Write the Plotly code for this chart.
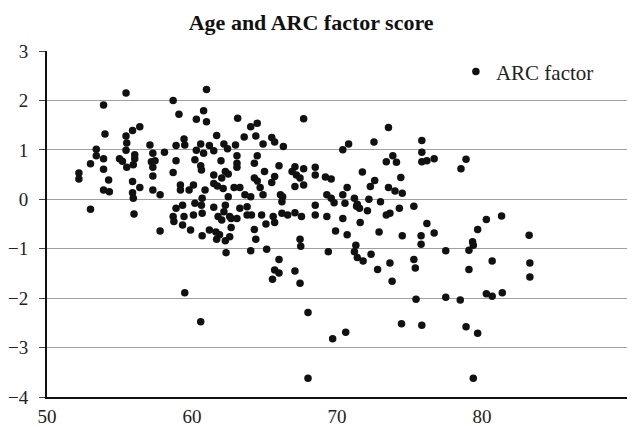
import plotly.graph_objects as go

age = [
    55.45, 53.9, 54.0, 56.4, 55.9, 55.45, 55.5, 57.1, 53.4, 55.45, 58.1, 57.3, 53.4, 53.9, 55.0, 56.05, 56.05,
    55.2, 57.2, 57.45, 53.0, 55.5, 55.95, 53.9, 57.3, 52.2, 52.2, 57.3, 54.25, 55.9, 53.9, 54.3, 56.4, 57.3,
    55.9, 55.95, 57.8, 53.0, 56.0, 57.8,
    61.0, 58.7, 59.1, 60.8, 60.3, 61.0, 63.15, 64.05, 64.5, 61.7, 63.6, 64.4, 65.5, 65.7, 66.3, 64.9, 59.45,
    59.5, 58.9, 60.6, 61.2, 62.2, 63.0, 60.3, 60.8, 61.5, 62.45, 63.1, 63.1, 63.1, 64.5, 58.9, 60.2, 62.0,
    64.3, 60.6, 60.65, 58.7, 66.0, 65.0, 61.5, 62.3, 62.5, 62.05, 65.7, 64.3, 64.5, 65.5, 61.5, 61.75, 59.2,
    60.1, 59.8, 59.2, 60.9, 62.9, 63.3, 64.7, 62.15, 63.65, 64.05, 64.9, 66.1, 66.2, 62.5, 60.7, 58.9, 59.35,
    60.2, 60.65, 61.5, 62.3, 62.2, 63.3, 63.8, 58.7, 59.45, 60.1, 60.7, 61.8, 62.6, 64.1, 64.8, 65.6, 66.2,
    58.75, 59.35, 62.05, 63.1, 62.7, 63.8, 65.7, 65.1, 66.6, 59.9, 60.7, 61.2, 61.65, 61.9, 61.7, 62.7, 62.6,
    62.3, 64.3, 64.4, 62.35, 64.05, 65.15, 66.0, 65.7, 66.0, 65.55, 59.5, 60.6,
    67.7, 73.55, 70.4, 70.8, 72.55, 73.85, 73.4, 74.1, 67.1, 67.7, 68.5, 68.5, 66.9, 67.2, 67.45, 69.2, 69.6,
    71.75, 72.6, 72.3, 74.4, 67.1, 67.7, 70.7, 73.55, 74.0, 74.5, 66.25, 69.3, 69.6, 69.8, 70.4, 70.55, 71.2,
    71.4, 71.55, 72.2, 73.0, 74.3, 67.1, 67.55, 68.5, 68.5, 69.3, 70.4, 72.1, 73.4, 73.65,
    71.35, 71.6, 69.9, 70.7, 72.9, 74.5, 67.45, 67.5, 71.3, 71.2, 71.4, 71.8, 72.35, 69.4, 67.1, 67.45, 72.8,
    73.65, 73.8, 68.0, 74.45, 70.6, 69.7, 68.0,
    75.85, 75.85, 75.85, 76.2, 76.7, 78.9, 78.55, 75.3, 80.3, 81.35,
    76.2, 75.8, 75.8, 76.7, 79.7, 79.35, 79.4, 79.1, 77.5, 83.25, 75.3, 75.4, 79.1, 80.7, 83.3, 83.3, 75.45,
    77.5, 78.5, 80.3, 80.7, 81.4, 75.85, 78.9, 79.7, 79.4,
]

arc_factor = [
    2.15, 1.91, 1.32, 1.47, 1.39, 1.28, 1.14, 1.10, 1.01, 0.99, 0.95, 0.93, 0.88, 0.82, 0.82, 0.90, 0.82,
    0.77, 0.76, 0.78, 0.72, 0.65, 0.70, 0.61, 0.65, 0.53, 0.41, 0.47, 0.39, 0.36, 0.19, 0.15, 0.24, 0.19,
    0.13, 0.02, 0.09, -0.20, -0.30, -0.64,
    2.22, 2.0, 1.72, 1.79, 1.62, 1.57, 1.64, 1.47, 1.54, 1.29, 1.26, 1.28, 1.25, 1.16, 1.07, 1.12, 1.22,
    1.10, 1.09, 1.12, 1.09, 1.12, 1.10, 0.99, 0.93, 0.98, 1.02, 0.88, 0.73, 0.65, 0.88, 0.78, 0.80, 0.78,
    0.73, 0.68, 0.59, 0.54, 0.68, 0.56, 0.49, 0.56, 0.51, 0.43, 0.46, 0.43, 0.37, 0.34, 0.32, 0.27, 0.29,
    0.29, 0.19, 0.19, 0.19, 0.24, 0.24, 0.24, 0.22, 0.09, 0.05, 0.09, 0.09, -0.05, 0.05, 0.02, -0.18, -0.12,
    -0.08, -0.12, -0.16, -0.12, -0.25, -0.18, -0.15, -0.35, -0.35, -0.32, -0.28, -0.35, -0.35, -0.32, -0.32, -0.35, -0.28,
    -0.45, -0.52, -0.42, -0.39, -0.39, -0.32, -0.47, -0.50, -0.32, -0.62, -0.74, -0.62, -0.66, -0.72, -0.81, -0.57, -0.76,
    -0.84, -0.61, -0.81, -1.08, -1.04, -1.01, -1.22, -1.43, -1.49, -1.62, -1.89, -2.48,
    1.63, 1.45, 1.0, 1.12, 1.16, 0.88, 0.76, 0.75, 0.66, 0.62, 0.65, 0.49, 0.56, 0.49, 0.43, 0.45, 0.41,
    0.55, 0.38, 0.26, 0.44, 0.26, 0.29, 0.24, 0.24, 0.17, 0.12, 0.05, 0.09, 0.02, -0.07, 0.09, -0.08, 0.02,
    -0.10, -0.18, 0.0, -0.05, -0.18, -0.27, -0.35, -0.12, -0.32, -0.35, -0.39, -0.23, -0.32, -0.28,
    -0.14, -0.47, -0.64, -0.72, -0.66, -0.74, -0.81, -0.95, -0.93, -1.06, -1.18, -1.25, -1.11, -1.06, -1.45, -1.70, -1.42,
    -1.29, -1.66, -2.29, -2.52, -2.69, -2.82, -3.62,
    1.19, 0.95, 0.76, 0.78, 0.82, 0.81, 0.62, -0.14, -0.41, -0.34,
    -0.49, -0.74, -0.91, -0.68, -0.61, -0.86, -0.93, -1.03, -1.04, -0.73, -1.22, -1.39, -1.42, -1.25, -1.29, -1.57, -2.02,
    -1.98, -2.04, -1.91, -1.96, -1.89, -2.55, -2.58, -2.71, -3.62,
]

series_name = "ARC factor"
chart_title = "Age and ARC factor score"
x_ticks = [50, 60, 70, 80, 90]
y_ticks = [-4, -3, -2, -1, 0, 1, 2, 3]

FONT = "Liberation Serif"

fig = go.Figure()
fig.add_trace(go.Scatter(
    x=age, y=arc_factor, mode="markers", name=series_name,
    marker=dict(color="#111111", size=7.5, line=dict(width=0)),
    showlegend=True,
))

fig.update_layout(
    width=635, height=427,
    margin=dict(l=47, r=8, t=51, b=30),
    paper_bgcolor="white", plot_bgcolor="white",
    font=dict(family=FONT, color="#222222", size=19),
    title=dict(text="<b>" + chart_title + "</b>", x=0.49, xanchor="center",
               y=1 - 22 / 427, yanchor="middle", yref="container",
               font=dict(family=FONT, size=22, color="#111111")),
    legend=dict(x=0.705, y=0.94, xanchor="left", yanchor="middle",
                bgcolor="rgba(255,255,255,0)", font=dict(family=FONT, size=21, color="#222222"),
                itemwidth=30, tracegroupgap=0),
    xaxis=dict(range=[50, 90], tickvals=x_ticks, showgrid=False, zeroline=False,
               showline=True, linecolor="#111111", linewidth=2, ticks="",
               ticklabelstandoff=1, tickfont=dict(size=19), automargin=False),
    yaxis=dict(range=[-4, 3], tickvals=y_ticks, showgrid=True, gridcolor="#a0a0a0", gridwidth=1,
               zeroline=False, showline=True, linecolor="#111111", linewidth=2,
               ticks="outside", ticklen=6, tickcolor="#444444", tickwidth=1,
               ticklabelstandoff=7, tickfont=dict(size=19), automargin=False),
)

fig.write_html(
    "out.html",
    config={"displayModeBar": False},
    post_script="document.body.style.margin='0';document.body.style.overflow='hidden';",
)
